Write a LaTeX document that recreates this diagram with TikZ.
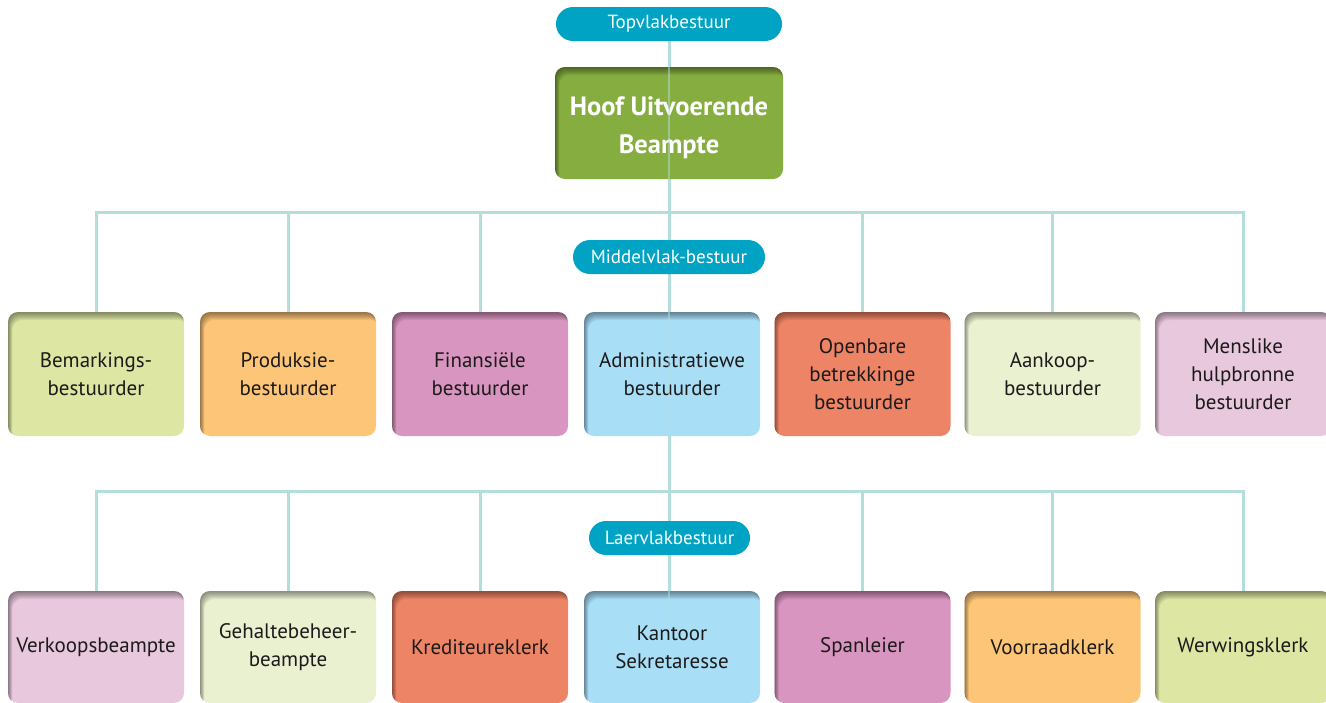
\documentclass[tikz,border=0pt]{standalone}
\usepackage{fontspec}
\setmainfont{PT Sans}
\pgfdeclarelayer{background}
\pgfsetlayers{background,main}

\definecolor{linec}{HTML}{B4DEDC}
\definecolor{pillc}{HTML}{00A3C4}
\definecolor{ceoc}{HTML}{86AD3F}
\definecolor{cGreen}{HTML}{DDE6A3}
\definecolor{cOrange}{HTML}{FDC578}
\definecolor{cPurple}{HTML}{D895C0}
\definecolor{cBlue}{HTML}{A9DEF7}
\definecolor{cSalmon}{HTML}{EE8466}
\definecolor{cPale}{HTML}{EAF1D1}
\definecolor{cPink}{HTML}{E8C8DD}
\definecolor{txt}{HTML}{1C1A1A}

\tikzset{
  inshadow/.style={path picture={
    \foreach \d in {1,...,8}{
      \fill[black,opacity=0.06,even odd rule]
        ([shift={(-14pt,14pt)}]path picture bounding box.north west) rectangle
        ([shift={(14pt,-14pt)}]path picture bounding box.south east)
        [rounded corners=10pt]
        ([shift={(0.55*\d pt,-\d pt)}]path picture bounding box.north west) rectangle
        ([shift={(0.55*\d pt,-\d pt)}]path picture bounding box.south east);
    }}},
  box/.style={rounded corners=10pt, minimum width=176pt, minimum height=124pt,
    inner sep=0pt, align=center, text=txt,
    font=\fontsize{21}{28}\selectfont, inshadow},
  lbox/.style={box, minimum height=112pt},
  pill/.style={fill=pillc, rounded corners=17pt, minimum height=34pt,
    inner sep=0pt, text=white, font=\fontsize{19}{22}\selectfont},
  conn/.style={draw=linec, line width=3pt},
  thru/.style={draw=linec, line width=2pt, opacity=0.5},
}

\begin{document}
\begin{tikzpicture}[x=1pt,y=-1pt]
\useasboundingbox (0,0) rectangle (1326,702);

% top level
\node[pill, minimum width=226pt] (top) at (669,24) {Topvlakbestuur};
\node[box, fill=ceoc, minimum width=228pt, minimum height=112pt, text=white,
      font=\bfseries\fontsize{26.5}{38}\selectfont] (ceo) at (669,123)
      {\rule{0pt}{28pt}Hoof Uitvoerende\\Beampte};

% middle level
\node[pill, minimum width=192pt] (midp) at (669,257) {Middelvlak-bestuur};
\node[box, fill=cGreen]  (m1) at (96,374)    {Bemarkings-\\bestuurder};
\node[box, fill=cOrange] (m2) at (288,374)   {Produksie-\\bestuurder};
\node[box, fill=cPurple] (m3) at (480,374)   {Finansiële\\bestuurder};
\node[box, fill=cBlue]   (m4) at (672,374)   {Administratiewe\\bestuurder};
\node[box, fill=cSalmon] (m5) at (862.5,374) {Openbare\\betrekkinge\\bestuurder};
\node[box, fill=cPale]   (m6) at (1052.5,374){Aankoop-\\bestuurder};
\node[box, fill=cPink]   (m7) at (1243,374)  {Menslike\\hulpbronne\\bestuurder};

% lower level
\node[pill, minimum width=161pt] (lowp) at (669.5,538) {Laervlakbestuur};
\node[lbox, fill=cPink]   (l1) at (96,647)    {Verkoopsbeampte};
\node[lbox, fill=cPale]   (l2) at (288,647)   {Gehaltebeheer-\\beampte};
\node[lbox, fill=cSalmon] (l3) at (480,647)   {Krediteureklerk};
\node[lbox, fill=cBlue]   (l4) at (672,647)   {Kantoor\\Sekretaresse};
\node[lbox, fill=cPurple] (l5) at (862.5,647) {Spanleier};
\node[lbox, fill=cOrange] (l6) at (1052.5,647){Voorraadklerk};
\node[lbox, fill=cGreen]  (l7) at (1243,647)  {Werwingsklerk};

\coordinate (busA) at (669,212);
\coordinate (busB) at (669,491);

\begin{pgfonlayer}{background}
  \fill[white] (0,0) rectangle (1326,702);
  % central trunk
  \draw[conn] (top.south) -- (top.south |- l4.north);
  % middle bus and drops
  \draw[conn] (m1.north) |- (busA) -| (m7.north);
  \foreach \i in {2,3,5,6} \draw[conn] (m\i.north) -- (m\i.north |- busA);
  % lower bus and drops
  \draw[conn] (l1.north) |- (busB) -| (l7.north);
  \foreach \i in {2,3,5,6} \draw[conn] (l\i.north) -- (l\i.north |- busB);
\end{pgfonlayer}

% trunk showing through the central boxes
\draw[thru] (top.south |- ceo.north) -- (top.south |- ceo.south);
\draw[thru] (top.south |- m4.north) -- (top.south |- m4.south);
\draw[thru] (top.south |- l4.north) -- ([yshift=-24pt]top.south |- l4.north);
\end{tikzpicture}
\end{document}
